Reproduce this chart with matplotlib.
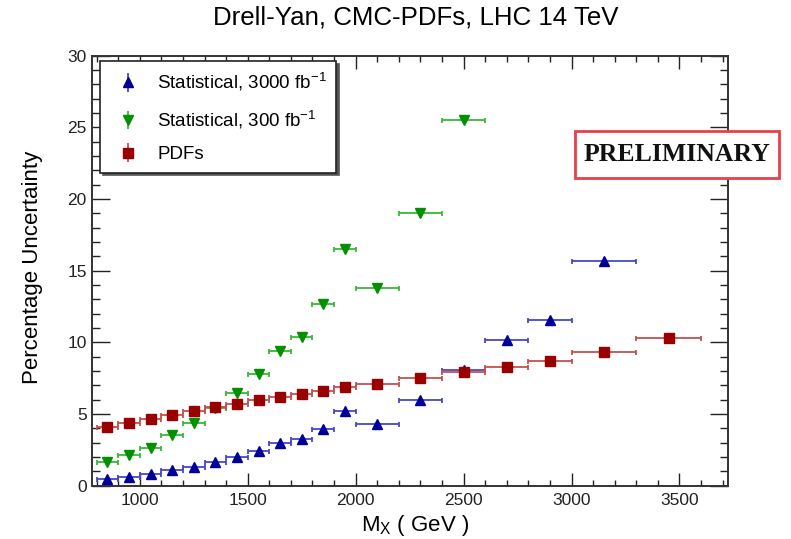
import numpy as np
import matplotlib
matplotlib.use("Agg")
import matplotlib.pyplot as plt
from matplotlib.patches import Rectangle
from matplotlib.ticker import MultipleLocator

plt.rcParams['font.family'] = ['Liberation Sans', 'DejaVu Sans']
plt.rcParams['mathtext.fontset'] = 'custom'
plt.rcParams['mathtext.rm'] = 'Liberation Sans'

# bin centres / half widths (GeV)
mass_lo = [850, 950, 1050, 1150, 1250, 1350, 1450, 1550, 1650, 1750, 1850, 1950,
           2100, 2300, 2500, 2700, 2900, 3150, 3450]
half_width = [50, 50, 50, 50, 50, 50, 50, 50, 50, 50, 50, 50,
              100, 100, 100, 100, 100, 150, 150]

# percentage uncertainty per bin
stat_3000 = [0.47, 0.63, 0.79, 1.10, 1.33, 1.68, 1.98, 2.44, 2.96, 3.24, 3.96, 5.21,
             4.30, 5.98, 8.07, 10.17, 11.56, 15.68]
stat_300 = [1.65, 2.12, 2.65, 3.54, 4.35, 5.40, 6.45, 7.77, 9.42, 10.40, 12.66, 16.50,
            13.77, 19.00, 25.50]
pdf_unc = [4.12, 4.40, 4.65, 4.96, 5.24, 5.47, 5.73, 5.96, 6.21, 6.40, 6.63, 6.87,
           7.10, 7.49, 7.91, 8.26, 8.70, 9.33, 10.31]

labels = [r"Statistical, 3000 fb$^{\mathregular{-1}}$",
          r"Statistical, 300 fb$^{\mathregular{-1}}$",
          "PDFs"]

series = [
    (stat_3000, "^", "#000099", "#4848c8", 7.4),
    (stat_300, "v", "#009000", "#38b838", 7.4),
    (pdf_unc, "s", "#990000", "#c45050", 7.0),
]

fig = plt.figure(figsize=(7.91, 5.39), dpi=100)
ax = fig.add_axes([0.1167, 0.0989, 0.8037, 0.798])

handles = []
for vals, mk, mcol, bcol, ms in series:
    n = len(vals)
    x = np.array(mass_lo[:n])
    xe = np.array(half_width[:n])
    ax.errorbar(x, vals, xerr=xe, fmt=mk, color=mcol, ms=ms, mec=mcol,
                ecolor=bcol, elinewidth=1.3, capsize=1.8, capthick=1.3, zorder=3)
    # legend entry: marker with a vertical bar
    h = ax.errorbar([], [], yerr=[], fmt=mk, color=mcol, ms=ms, mec=mcol,
                    ecolor=bcol, elinewidth=1.3, capsize=0)
    handles.append(h)

ax.set_xlim(780, 3725)
ax.set_ylim(0, 30)

ax.xaxis.set_major_locator(MultipleLocator(500))
ax.xaxis.set_minor_locator(MultipleLocator(100))
ax.yaxis.set_major_locator(MultipleLocator(5))
ax.yaxis.set_minor_locator(MultipleLocator(1))

ax.tick_params(axis='both', which='both', direction='in', top=True, right=True,
               colors='#222222', labelsize=12.5, width=1.0)
ax.tick_params(axis='x', which='major', length=9.5, pad=5)
ax.tick_params(axis='x', which='minor', length=4.5)
ax.tick_params(axis='y', which='major', length=13, pad=4)
ax.tick_params(axis='y', which='minor', length=5.8)
for sp in ax.spines.values():
    sp.set_linewidth(1.4)
    sp.set_color('#333333')

ax.set_xlabel(r"M$_{\mathregular{X}}$ ( GeV )", fontsize=16)
ax.xaxis.set_label_coords(0.507, -0.063)
ax.set_ylabel("Percentage Uncertainty", fontsize=16)
ax.yaxis.set_label_coords(-0.077, 0.508)

leg = ax.legend(handles, labels, loc='upper left', bbox_to_anchor=(0.0121, 0.987),
                borderaxespad=0, fontsize=13.5, frameon=True, fancybox=False,
                shadow={'color': '#555555', 'alpha': 1.0}, handlelength=2.0,
                handletextpad=0.55, labelspacing=0.8, borderpad=0.5,
                edgecolor='#222222')
leg.get_frame().set_linewidth(1.2)

fig.text(0.526, 0.968, "Drell-Yan, CMC-PDFs, LHC 14 TeV", fontsize=18.6,
         ha='center', va='center')

# preliminary stamp
fig.add_artist(Rectangle((0.727, 0.669), 0.258, 0.0883, transform=fig.transFigure,
                         facecolor='white', edgecolor='#e8404a', lw=2.0, zorder=5))
fig.text(0.856, 0.7134, "PRELIMINARY", fontsize=18.5, fontweight='bold',
         family='Liberation Serif', ha='center', va='center', color='#111111',
         zorder=6)

fig.savefig("out.png", dpi=100)
